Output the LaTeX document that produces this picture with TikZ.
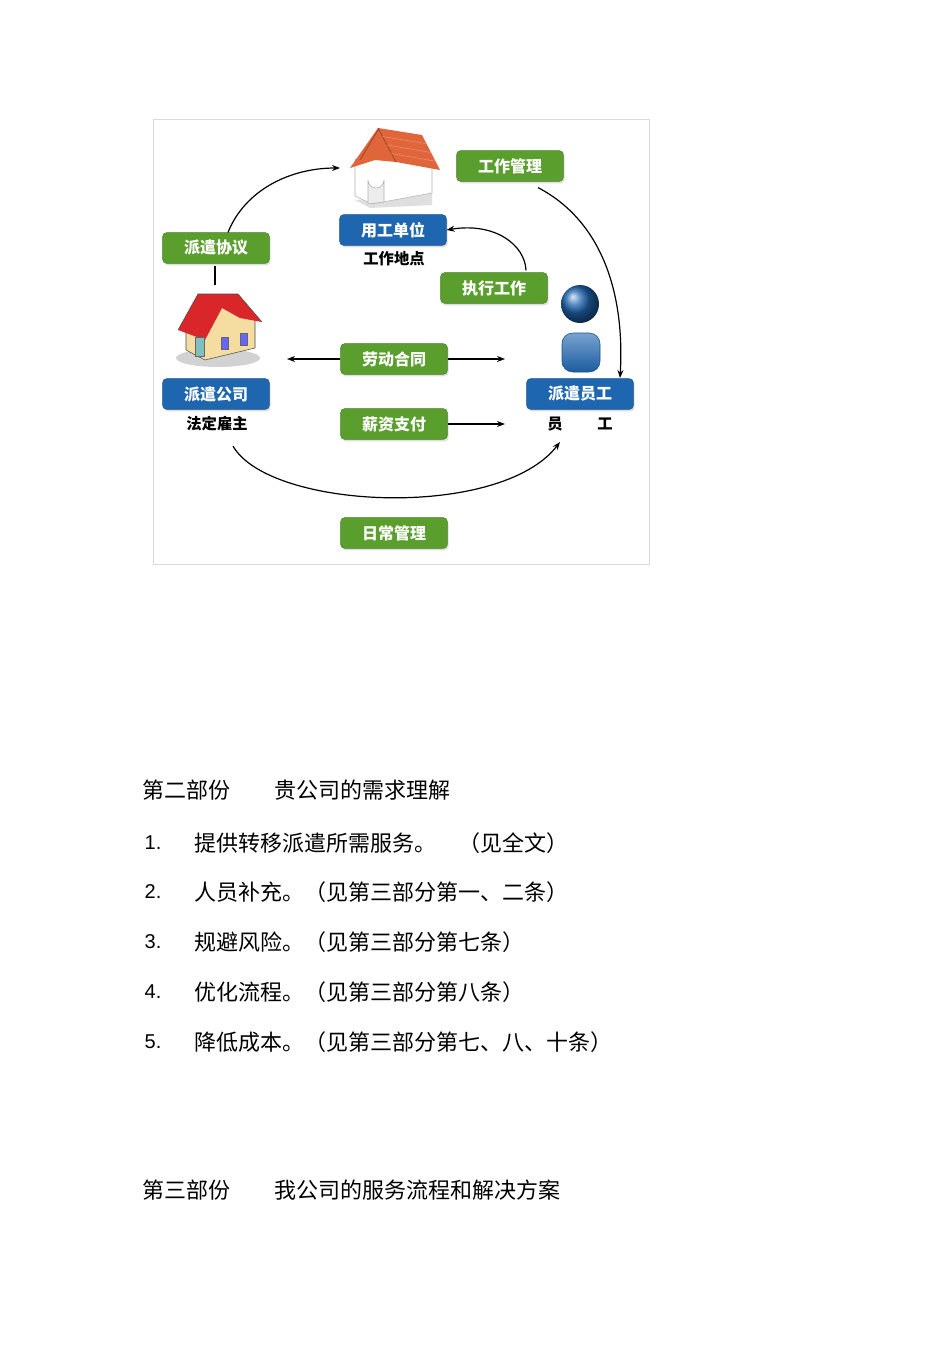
\documentclass[tikz,border=0pt]{standalone}
\usepackage{fontspec}
\setmainfont{Liberation Sans}
\newfontfamily\cjk{Noto Sans CJK SC}
\usetikzlibrary{arrows.meta,shadows,calc}
\definecolor{gbox}{HTML}{5A9E2E}
\definecolor{bbox}{HTML}{1F66B0}
\definecolor{roofO}{HTML}{E0653A}
\definecolor{roofR}{HTML}{D8262A}
\definecolor{wallB}{HTML}{F5DCA0}
\begin{document}
\begin{tikzpicture}[x=0.75pt,y=-0.75pt,
  gl/.style={rounded corners=3pt,fill=gbox,draw=gbox!80!black,text=white,font=\cjk\bfseries\fontsize{12}{14}\selectfont,minimum width=80pt,minimum height=23pt,drop shadow={opacity=0.25,shadow xshift=1pt,shadow yshift=-1.5pt}},
  bl/.style={gl,fill=bbox,draw=bbox!80!black},
  sub/.style={font=\cjk\bfseries\fontsize{11.5}{13}\selectfont},
  arr/.style={-{Stealth[length=6pt]},line width=0.9pt},
  para/.style={anchor=west,font=\cjk\fontsize{16.5}{20}\selectfont},
  num/.style={anchor=west,font=\fontsize{15}{18}\selectfont}]
\useasboundingbox (0,0) rectangle (950,1345);
\fill[white] (0,0) rectangle (950,1345);
\draw[gray!30] (153,119) rectangle (649,564);
% top house
\fill[gray!25] (355,200) -- (432,193) -- (432,205) -- (370,208) -- cycle;
\filldraw[draw=gray!60,fill=white] (355,160) -- (380,142) -- (432,165) -- (432,193) -- (372,204) -- (355,196) -- cycle;
\filldraw[draw=gray!60,fill=gray!15] (368,204) -- (368,180) arc (180:0:8) -- (384,202) -- cycle;
\fill[roofO] (350,168) -- (378,128) -- (422,135) -- (440,170) -- (396,162) -- (375,160) -- cycle;
\draw[roofO!70!black,line width=0.6pt] (378,128) -- (396,162) (360,160) -- (378,130);
\foreach \t in {0.25,0.5,0.75}{\draw[roofO!70!white] ($(378,128)!\t!(396,162)$) -- ($(422,135)!\t!(440,170)$);}
% left house
\fill[gray!35] (218,358) ellipse (42 and 9);
\filldraw[draw=black!70,fill=wallB] (186,320) -- (186,350) -- (205,360) -- (255,348) -- (255,318) -- (220,300) -- cycle;
\fill[roofR] (178,330) -- (198,294) -- (238,294) -- (262,322) -- (240,318) -- (222,308) -- (205,340) -- cycle;
\draw[black!70] (178,330) -- (198,294) -- (238,294) -- (262,322);
\filldraw[fill=teal!50,draw=black!60] (195,337) rectangle (204,356);
\filldraw[fill=blue!60,draw=black!60] (221,337) rectangle (228,349);
\filldraw[fill=blue!60,draw=black!60] (240,333) rectangle (247,345);
% person
\shade[ball color=bbox] (580,304) circle (19);
\shade[top color=bbox!60,bottom color=bbox!90!black,rounded corners=8pt] (562,333) rectangle (600,372);
\draw[bbox!80!black,rounded corners=8pt] (562,333) rectangle (600,372);
% nodes
\node[bl] (yg) at (393,230) {用工单位};
\node[sub] (gd) at (394,259) {工作地点};
\node[gl] (gz) at (510,166) {工作管理};
\node[gl] (px) at (216,248) {派遣协议};
\node[gl] (zx) at (494,288) {执行工作};
\node[gl] (ld) at (394,359) {劳动合同};
\node[bl] (pg) at (216,394) {派遣公司};
\node[sub] (fd) at (217,424) {法定雇主};
\node[gl] (xz) at (394,424) {薪资支付};
\node[bl] (py) at (580,394) {派遣员工};
\node[sub] (yy) at (555,424) {员};
\node[sub] (yw) at (605,424) {工};
\node[gl] (rc) at (394,533) {日常管理};
\coordinate (hl) at (287,359);
\coordinate (hr) at (505,359);
\coordinate (xr) at (505,424);
\coordinate (toph) at (340,168);
\coordinate (lh) at (215,285);
% connectors
\draw[line width=0.9pt] (px.south) ++(-1,2) -- (lh);
\draw[arr] (px.north) ++(12,0) .. controls (245,190) and (290,168) .. (toph);
\draw[arr] (gz.south) ++(28,6) .. controls (600,220) and (625,290) .. (620,378);
\draw[arr] (zx.north) ++(32,-2) .. controls (525,245) and (495,222) .. (yg.east);
\draw[arr] (ld.west) -- (hl);
\draw[arr] (ld.east) -- (hr);
\draw[arr] (xz.east) -- (xr);
\draw[arr] (fd.south) ++(16,10) .. controls (270,510) and (500,520) .. (560,442);
% text
\node[para] (h2) at (138,790) {第二部份\hspace{2em}贵公司的需求理解};
\foreach \n/\y/\t in {1/843/提供转移派遣所需服务。\hspace{1em}（见全文）,2/892/人员补充。（见第三部分第一、二条）,3/942/规避风险。（见第三部分第七条）,4/992/优化流程。（见第三部分第八条）,5/1042/降低成本。（见第三部分第七、八、十条）}{
  \node[num] (n\n) at (140,\y) {\n.};
  \node[para] (t\n) at (190,\y) {\t};}
\node[para] (h3) at (138,1190) {第三部份\hspace{2em}我公司的服务流程和解决方案};
\end{tikzpicture}
\end{document}
